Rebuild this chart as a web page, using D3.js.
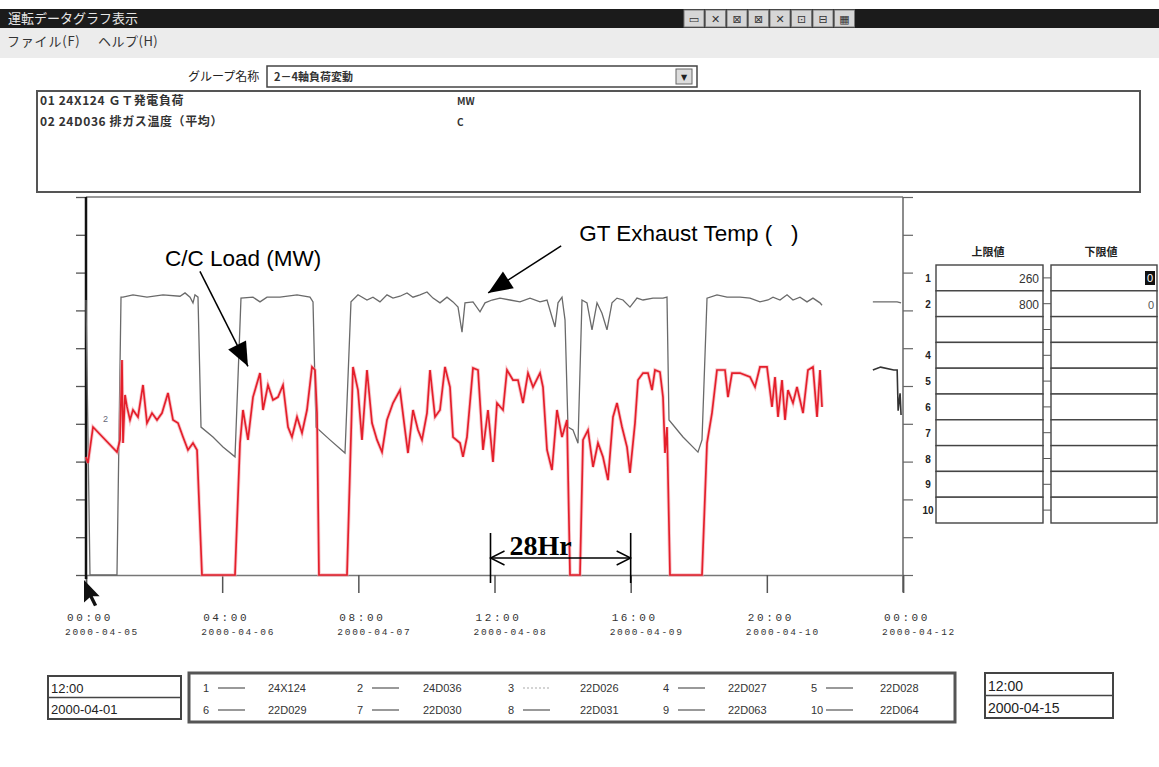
<!DOCTYPE html>
<html><head><meta charset="utf-8">
<script src="https://cdn.jsdelivr.net/npm/d3@7"></script>
<style>
body{margin:0;background:#fff;}
svg{display:block;}
</style></head><body>
<svg id="c" width="1159" height="767"></svg>
<script>
// ---------- DATA ----------
const startDate = new Date(2000, 3, 5, 0, 0);
const tickHours = [0, 28, 56, 84, 112, 140, 168];
const loadRange = [0, 260];   // series 1 limits (MW)
const tempRange = [0, 800];   // series 2 limits (C)

// GT load (MW): [hour from start, value]
const gtLoad = [[0,81.2],[0.41,77.0],[1.44,101.8],[6.37,84.6],[6.99,92.9],[7.40,147.9],[7.61,90.8],[8.02,123.8],[8.43,115.6],[9.05,106.6],
[9.66,113.5],[10.69,108.7],[11.72,130.7],[12.54,104.5],[13.57,111.4],[14.60,106.6],[15.63,111.4],[16.86,125.2],[17.89,106.6],[18.92,104.5],
[19.95,94.9],[20.97,86.0],[22.00,90.8],[22.83,86.0],[23.85,0],[30.64,0],[31.67,90.8],[32.28,113.5],[33.31,92.9],[34.34,122.4],
[35.78,138.9],[36.40,113.5],[37.42,130.7],[38.45,120.4],[39.48,122.4],[40.51,130.7],[41.54,101.8],[42.36,94.9],[43.39,108.7],[44.42,97.7],
[45.44,113.5],[46.47,143.1],[47.09,141.0],[47.50,111.4],[47.91,0],[53.67,0],[54.90,143.1],[55.93,127.2],[56.75,92.9],[57.78,141.0],
[58.81,104.5],[59.84,92.9],[60.87,84.6],[61.89,106.6],[63.13,118.3],[64.57,127.2],[65.60,99.7],[66.21,83.9],[67.24,113.5],[68.27,99.7],
[69.09,92.9],[70.12,111.4],[70.74,141.0],[71.77,108.7],[72.79,113.5],[73.82,143.1],[74.85,129.3],[75.47,94.9],[76.91,90.8],[77.52,81.2],
[78.34,94.9],[79.58,142.4],[80.61,141.0],[81.64,86.0],[82.66,113.5],[83.69,77.7],[84.51,118.3],[85.75,113.5],[86.57,141.0],[87.80,134.1],
[88.83,134.1],[89.86,118.3],[90.89,138.9],[91.92,129.3],[93.36,138.9],[93.97,129.3],[94.80,86.0],[95.82,72.2],[96.85,113.5],[97.88,94.9],
[98.91,106.6],[99.53,0],[101.58,0],[102.20,92.9],[103.23,99.7],[104.26,74.3],[105.28,90.8],[106.31,81.2],[107.34,65.3],[108.37,108.7],
[109.19,118.3],[110.22,101.8],[111.25,88.0],[111.86,70.2],[112.89,104.5],[113.51,134.1],[114.54,138.9],[115.56,138.9],[116.39,127.2],[117.00,141.0],
[118.03,139.6],[118.65,122.4],[119.06,83.9],[119.47,101.8],[120.09,0],[126.67,0],[127.70,90.8],[128.72,111.4],[129.75,141.0],[131.40,141.0],
[132.01,122.4],[132.84,138.9],[134.48,138.9],[136.54,136.2],[137.57,129.3],[138.59,143.1],[140.03,143.1],[141.06,115.6],[141.68,136.2],[142.30,108.7],
[143.12,134.1],[143.74,106.6],[144.35,127.2],[145.38,118.3],[146.20,129.3],[147.44,111.4],[148.46,141.0],[149.49,143.1],[150.32,108.7],[150.93,141.0],
[151.35,115.6]];

// GT exhaust temperature average (C)
const exhaustTemp = [[0,582],[0.82,0],[6.37,0],[7.20,588],[7.61,588],[9.66,593],[12.54,588],[15.83,593],[19.33,590],[20.36,597],
[21.39,588],[22.00,576],[22.41,593],[23.03,588],[23.65,313],[26.11,292],[28.17,271],[30.64,250],[31.87,586],[34.34,588],
[35.78,578],[37.22,588],[39.89,588],[43.39,593],[46.06,588],[46.68,578],[47.30,313],[50.17,286],[53.26,258],[54.49,578],
[55.93,593],[57.78,582],[59.01,588],[60.45,578],[61.89,593],[63.13,586],[64.57,590],[66.01,597],[67.24,588],[68.68,593],
[70.12,599],[71.35,586],[72.79,576],[74.23,588],[75.47,578],[76.50,567],[77.32,514],[77.93,576],[79.58,578],[81.02,557],
[82.05,576],[83.49,582],[85.13,586],[87.19,582],[89.24,578],[91.30,586],[93.36,578],[94.80,582],[95.82,546],[96.44,525],
[97.06,576],[97.88,588],[98.50,540],[99.11,313],[100.14,307],[101.17,279],[101.99,582],[103.02,576],[104.05,519],[105.08,576],
[106.10,554],[107.13,519],[108.16,576],[109.19,586],[110.42,582],[111.86,567],[113.30,586],[114.54,582],[116.59,586],[118.65,586],
[119.47,588],[119.88,328],[122.76,292],[125.84,260],[126.67,286],[127.70,586],[129.75,593],[131.81,588],[134.48,588],[136.54,586],
[138.59,578],[140.24,582],[141.27,588],[142.71,582],[144.15,593],[145.38,582],[146.82,588],[148.26,578],[149.49,586],[150.93,576],
[151.35,571]];

// short resumed segments near the right edge
const gtLoadTail = [[161.8,141],[163.4,143],[166.1,141],[166.8,141],[167.0,113],[167.4,125],[167.6,110]];
const exhaustTempTail = [[161.8,578],[166.8,578],[167.6,576]];

const legendNums = ["1","2","3","4","5","6","7","8","9","10"];
const legendCodes = ["24X124","24D036","22D026","22D027","22D028","22D029","22D030","22D031","22D063","22D064"];
const rowLabels = ["1","2","","4","5","6","7","8","9","10"];
const upperLimits = ["260","800","","","","","","","",""];
const lowerLimits = ["0","0","","","","","","","",""];

// ---------- DRAW ----------
const svg = d3.select("#c");
const CJK = "'Noto Sans CJK JP', 'Noto Sans', sans-serif";
const MONO = "'Liberation Mono', 'DejaVu Sans Mono', monospace";
const SANS = "'Liberation Sans', Arial, sans-serif";

// window chrome
svg.append("rect").attr("x",0).attr("y",9).attr("width",1159).attr("height",19).attr("fill","#1b1b1b");
svg.append("rect").attr("x",0).attr("y",28).attr("width",1159).attr("height",30).attr("fill","#ececec");
svg.append("text").attr("x",8).attr("y",23).attr("font-family",CJK).attr("font-size",13).attr("fill","#e6e6e6").text("運転データグラフ表示");
const tbGlyphs = ["▭","✕","⊠","⊠","✕","⊡","⊟","▦"];
tbGlyphs.forEach((g,i)=>{
  const bx = 684 + i*21.5;
  svg.append("rect").attr("x",bx).attr("y",10).attr("width",20).attr("height",17).attr("fill","#d6d6d6").attr("stroke","#777");
  svg.append("text").attr("x",bx+10).attr("y",23).attr("text-anchor","middle").attr("font-family","'DejaVu Sans'").attr("font-size",11).attr("fill","#333").text(g);
});
svg.append("text").attr("x",7).attr("y",46).attr("font-family",CJK).attr("font-size",13).attr("letter-spacing",0.8).attr("fill","#333").text("ファイル(F)");
svg.append("text").attr("x",98).attr("y",46).attr("font-family",CJK).attr("font-size",13).attr("letter-spacing",0.5).attr("fill","#333").text("ヘルプ(H)");

// group selector
svg.append("text").attr("x",188).attr("y",81).attr("font-family",CJK).attr("font-size",12).attr("fill","#222").text("グループ名称");
svg.append("rect").attr("x",267).attr("y",66).attr("width",430).attr("height",21).attr("fill","#fff").attr("stroke","#444").attr("stroke-width",1.5);
svg.append("text").attr("x",274).attr("y",81).attr("font-family",CJK).attr("font-size",11).attr("font-weight","bold").attr("fill","#333").text("2－4軸負荷変動");
svg.append("rect").attr("x",676).attr("y",69).attr("width",16).attr("height",15).attr("fill","#ddd").attr("stroke","#666");
svg.append("text").attr("x",684).attr("y",80).attr("text-anchor","middle").attr("font-family","'DejaVu Sans'").attr("font-size",8).attr("fill","#222").text("▼");

// info box
svg.append("rect").attr("x",37).attr("y",91).attr("width",1103).attr("height",101).attr("fill","#fff").attr("stroke","#555").attr("stroke-width",2);
const info = [["01 24X124 ＧＴ発電負荷","MW"],["02 24D036 排ガス温度（平均）","C"]];
info.forEach((r,i)=>{
  svg.append("text").attr("x",40).attr("y",105+i*21).attr("font-family",CJK).attr("font-size",12).attr("letter-spacing",0.6).attr("font-weight","bold").attr("fill","#333").text(r[0]);
  svg.append("text").attr("x",457).attr("y",105+i*21).attr("font-family",CJK).attr("font-size",10).attr("font-weight","bold").attr("fill","#333").text(r[1]);
});

// scales
const L = 86, R = 903, T = 197, B = 575;
const x = d3.scaleLinear().domain([0,168]).range([L,R]);
const yLoad = d3.scaleLinear().domain(loadRange).range([B,T]);
const yTemp = d3.scaleLinear().domain(tempRange).range([B,T]);

// frame
svg.append("line").attr("x1",L).attr("x2",R).attr("y1",T).attr("y2",T).attr("stroke","#777").attr("stroke-width",1.5);
svg.append("line").attr("x1",R).attr("x2",R).attr("y1",T).attr("y2",592).attr("stroke","#666").attr("stroke-width",1.5);

// axes
const axL = svg.append("g").attr("transform",`translate(${L},0)`)
  .call(d3.axisLeft(yLoad).tickValues(d3.range(0,261,26)).tickSize(10).tickFormat(""));
axL.select(".domain").remove();
axL.selectAll("line").attr("stroke","#555").attr("stroke-width",1.3);
const axR = svg.append("g").attr("transform",`translate(${R},0)`)
  .call(d3.axisRight(yTemp).tickValues(d3.range(0,801,80)).tickSize(10).tickFormat(""));
axR.select(".domain").remove();
axR.selectAll("line").attr("stroke","#666").attr("stroke-width",1.2);
const axB = svg.append("g").attr("transform",`translate(0,${B})`)
  .call(d3.axisBottom(x).tickValues(tickHours).tickSize(18).tickFormat(""));
axB.select(".domain").attr("stroke","#777").attr("stroke-width",1.5);
axB.selectAll("line").attr("stroke","#555").attr("stroke-width",1.5);
svg.append("line").attr("x1",L).attr("x2",L).attr("y1",T).attr("y2",579).attr("stroke","#111").attr("stroke-width",2.5);

const fmtT = d3.timeFormat("%H:%M"), fmtD = d3.timeFormat("%Y-%m-%d");
tickHours.forEach(h=>{
  const d = d3.timeHour.offset(startDate, h);
  svg.append("text").attr("x",x(h)-19).attr("y",621).attr("font-family",MONO).attr("font-size",11).attr("letter-spacing",2.6).attr("fill","#333").text(fmtT(d));
  svg.append("text").attr("x",x(h)-21).attr("y",635).attr("font-family",MONO).attr("font-size",9.5).attr("letter-spacing",1.7).attr("fill","#333").text(fmtD(d));
});

// series
const lineLoad = d3.line().x(d=>x(d[0])).y(d=>yLoad(d[1]));
const lineTemp = d3.line().x(d=>x(d[0])).y(d=>yTemp(d[1]));
svg.append("path").datum(exhaustTemp).attr("d",lineTemp).attr("fill","none").attr("stroke","#6a6a6a").attr("stroke-width",1.3);
svg.append("path").datum(exhaustTempTail).attr("d",lineTemp).attr("fill","none").attr("stroke","#6a6a6a").attr("stroke-width",1.3);
svg.append("path").datum(gtLoad).attr("d",lineLoad).attr("fill","none").attr("stroke","#f3a0a8").attr("stroke-width",3.5).attr("opacity",0.6);
svg.append("path").datum(gtLoad).attr("d",lineLoad).attr("fill","none").attr("stroke","#e41f2b").attr("stroke-width",1.7);
svg.append("path").datum(gtLoadTail).attr("d",lineLoad).attr("fill","none").attr("stroke","#333").attr("stroke-width",1.6);
svg.append("text").attr("x",x(3.5)).attr("y",yLoad(105)).attr("font-family",SANS).attr("font-size",9).attr("fill","#667").text("2");

// annotations
function arrow(x1,y1,x2,y2,len,wid){
  svg.append("line").attr("x1",x1).attr("y1",y1).attr("x2",x2).attr("y2",y2).attr("stroke","#000").attr("stroke-width",1.5);
  const a = Math.atan2(y2-y1,x2-x1);
  const bx = x2 - len*Math.cos(a), by = y2 - len*Math.sin(a);
  const px = -Math.sin(a)*wid, py = Math.cos(a)*wid;
  svg.append("path").attr("d",`M${x2},${y2}L${bx+px},${by+py}L${bx-px},${by-py}Z`).attr("fill","#000");
}
// C/C Load
const t1 = [x(33.3), yLoad(143.5)];
svg.append("text").attr("x",t1[0]-83).attr("y",t1[1]-100).attr("font-family",SANS).attr("font-size",22.5).attr("fill","#000").text("C/C Load (MW)");
arrow(t1[0]-48, t1[1]-95, t1[0], t1[1], 24, 10);
// GT Exhaust Temp
const t2 = [x(82.7), yTemp(597)];
svg.append("text").attr("x",t2[0]+91).attr("y",t2[1]-52).attr("font-family",SANS).attr("font-size",22.5).attr("fill","#000").text("GT Exhaust Temp (\u00a0\u00a0\u00a0)");
arrow(t2[0]+73, t2[1]-47, t2[0], t2[1], 24, 10);
// 28Hr span
const sx1 = x(tickHours[3]) - 4, sx2 = x(tickHours[4]);
svg.append("text").attr("x",sx1+19).attr("y",555).attr("font-family","'Liberation Serif', serif").attr("font-weight","bold").attr("font-size",28).attr("fill","#000").text("28Hr");
[sx1,sx2].forEach(v=>svg.append("line").attr("x1",v).attr("x2",v).attr("y1",533).attr("y2",583).attr("stroke","#000").attr("stroke-width",1.6));
svg.append("line").attr("x1",sx1).attr("x2",sx2).attr("y1",558).attr("y2",558).attr("stroke","#000").attr("stroke-width",1.6);
svg.append("path").attr("d",`M${sx1+14},${551}L${sx1},${558}L${sx1+14},${565}M${sx2-14},${551}L${sx2},${558}L${sx2-14},${565}`).attr("fill","none").attr("stroke","#000").attr("stroke-width",1.4);

// cursor
svg.append("path").attr("transform",`translate(${L-2},580) scale(1.25)`)
  .attr("d","M0,0 L0,18 L4.5,14 L8,21 L10.5,20 L7,13 L12.5,13 Z").attr("fill","#111");

// right limits panel
svg.append("text").attr("x",988).attr("y",256).attr("text-anchor","middle").attr("font-family",CJK).attr("font-size",11).attr("font-weight","bold").attr("fill","#222").text("上限値");
svg.append("text").attr("x",1101).attr("y",256).attr("text-anchor","middle").attr("font-family",CJK).attr("font-size",11).attr("font-weight","bold").attr("fill","#222").text("下限値");
const rowH = 25.8, rowTop = 265;
rowLabels.forEach((lab,i)=>{
  const ry = rowTop + i*rowH;
  svg.append("rect").attr("x",936).attr("y",ry).attr("width",107).attr("height",rowH).attr("fill","#fff").attr("stroke","#444").attr("stroke-width",1.4);
  svg.append("rect").attr("x",1051).attr("y",ry).attr("width",106).attr("height",rowH).attr("fill","#fff").attr("stroke","#444").attr("stroke-width",1.4);
  svg.append("line").attr("x1",1043).attr("x2",1051).attr("y1",ry+rowH/2).attr("y2",ry+rowH/2).attr("stroke","#555");
  svg.append("text").attr("x",928).attr("y",ry+rowH/2+4).attr("text-anchor","middle").attr("font-family",SANS).attr("font-size",10).attr("font-weight","bold").attr("fill","#222").text(lab);
  svg.append("text").attr("x",1039).attr("y",ry+rowH/2+5).attr("text-anchor","end").attr("font-family",SANS).attr("font-size",12).attr("fill","#333").text(upperLimits[i]);
  if(i===0){
    svg.append("rect").attr("x",1145).attr("y",ry+6).attr("width",10).attr("height",14).attr("fill","#111");
    svg.append("text").attr("x",1150).attr("y",ry+17).attr("text-anchor","middle").attr("font-family",SANS).attr("font-size",11).attr("fill","#fff").text(lowerLimits[i]);
  } else {
    svg.append("text").attr("x",1154).attr("y",ry+rowH/2+5).attr("text-anchor","end").attr("font-family",SANS).attr("font-size",11).attr("fill","#555").text(lowerLimits[i]);
  }
});

// bottom: start/end time boxes and legend
function timeBox(bx,by,w,h,t,d,fs){
  svg.append("rect").attr("x",bx).attr("y",by).attr("width",w).attr("height",h).attr("fill","#fff").attr("stroke","#444").attr("stroke-width",2);
  svg.append("line").attr("x1",bx).attr("x2",bx+w).attr("y1",by+h/2).attr("y2",by+h/2).attr("stroke","#444").attr("stroke-width",1.5);
  svg.append("text").attr("x",bx+3).attr("y",by+h/2-5).attr("font-family",SANS).attr("font-size",fs).attr("fill","#222").text(t);
  svg.append("text").attr("x",bx+3).attr("y",by+h-5).attr("font-family",SANS).attr("font-size",fs).attr("fill","#222").text(d);
}
timeBox(48,676,133,43,"12:00","2000-04-01",13);
timeBox(985,673,128,45,"12:00","2000-04-15",14);
svg.append("rect").attr("x",189).attr("y",673).attr("width",766).attr("height",49).attr("fill","#fff").attr("stroke","#555").attr("stroke-width",3);
const colNum = [203,357,508,663,811], colCode = [268,423,580,728,880];
legendNums.forEach((n,i)=>{
  const c = i%5, r = Math.floor(i/5);
  const yy = 692 + r*22;
  svg.append("text").attr("x",colNum[c]).attr("y",yy).attr("font-family",SANS).attr("font-size",11).attr("fill","#333").text(n);
  svg.append("line").attr("x1",colNum[c]+15).attr("x2",colNum[c]+42).attr("y1",yy-4).attr("y2",yy-4)
    .attr("stroke", i===2 ? "#aaa" : "#555").attr("stroke-width",1.2).attr("stroke-dasharray", i===2 ? "2,2" : null);
  svg.append("text").attr("x",colCode[c]).attr("y",yy).attr("font-family",SANS).attr("font-size",11).attr("fill","#333").text(legendCodes[i]);
});
</script>
</body></html>
